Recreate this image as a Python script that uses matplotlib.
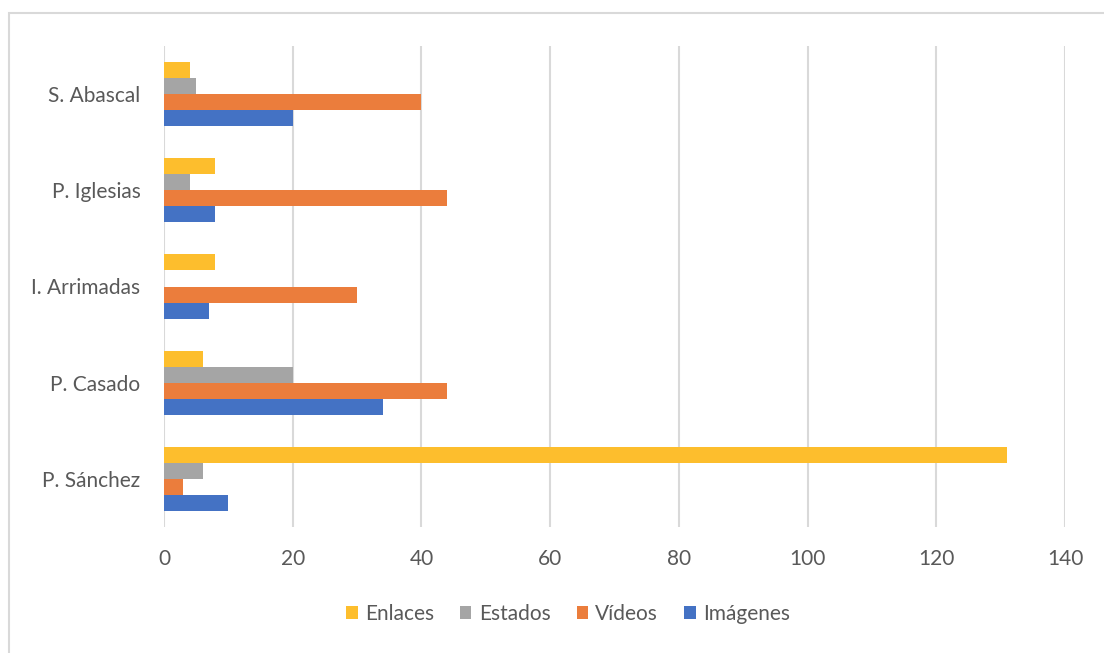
import matplotlib
matplotlib.use("Agg")
import matplotlib.pyplot as plt
from matplotlib.patches import Rectangle, Patch

# data
candidates = ["P. Sánchez", "P. Casado", "I. Arrimadas", "P. Iglesias", "S. Abascal"]
enlaces = [131, 6, 8, 8, 4]
estados = [6, 20, 0, 4, 5]
videos = [3, 44, 30, 44, 40]
imagenes = [10, 34, 7, 8, 20]

COLORS = {
    "Enlaces": "#FDBE2D",
    "Estados": "#A5A5A5",
    "Vídeos": "#EB7D3C",
    "Imágenes": "#4472C4",
}
TEXT = "#595959"
GRID = "#D9D9D9"

plt.rcParams["font.family"] = ["Lato", "DejaVu Sans"]

fig = plt.figure(figsize=(11.04, 6.53), dpi=100)
ax = fig.add_axes([164 / 1104, 1 - 527 / 653, (1065 - 164) / 1104, (527 - 46) / 653])

# outer chart frame (only left/top visible in the picture)
fig.patches.append(Rectangle((9 / 1104, -0.2), 1.2, 1.2 - 13 / 653 + 0.0,
                             transform=fig.transFigure, fill=False,
                             edgecolor=GRID, linewidth=1.5))

h = 1 / 6
y = list(range(len(candidates)))
series = [("Enlaces", enlaces, 1.5), ("Estados", estados, 0.5),
          ("Vídeos", videos, -0.5), ("Imágenes", imagenes, -1.5)]
for name, vals, off in series:
    ax.barh([p + off * h for p in y], vals, height=h, color=COLORS[name], zorder=3)

ax.set_xlim(0, 140)
ax.set_ylim(-0.5, len(candidates) - 0.5)
ax.set_xticks(range(0, 141, 20))
ax.set_yticks(y)
ax.set_yticklabels(candidates)
for s in ax.spines.values():
    s.set_visible(False)
ax.tick_params(axis="both", length=0, labelsize=15, colors=TEXT)
ax.tick_params(axis="x", pad=16)
ax.tick_params(axis="y", pad=17)
ax.grid(axis="x", color=GRID, linewidth=1.5, zorder=0)
ax.set_axisbelow(True)

handles = [Patch(facecolor=COLORS[n], edgecolor="none", label=n) for n, _, _ in series]
fig.legend(handles=handles, loc="center", bbox_to_anchor=(568 / 1104, 1 - 614 / 653),
           ncol=4, frameon=False, fontsize=15, labelcolor=TEXT,
           handlelength=0.55, handleheight=0.55, handletextpad=0.35,
           columnspacing=1.25)

fig.savefig("out.png", dpi=100, facecolor="white")
